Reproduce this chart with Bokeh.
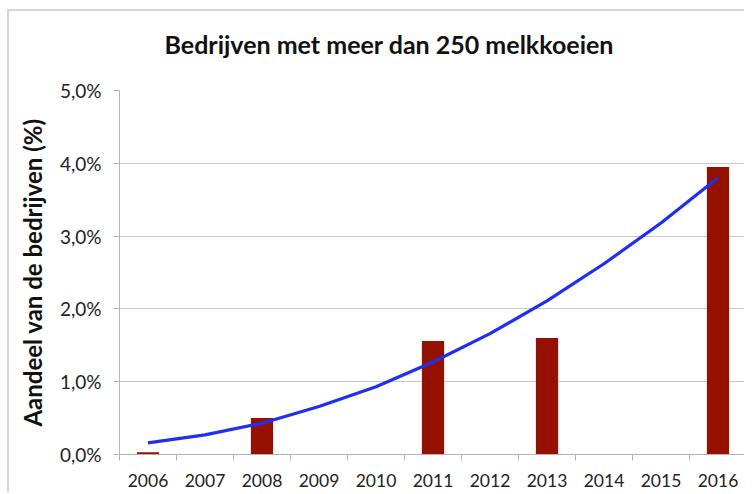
from bokeh.plotting import figure
from bokeh.models import FixedTicker, Range1d, Title
from bokeh.embed import file_html
from bokeh.resources import INLINE

# ---- data ----
years = [2006, 2007, 2008, 2009, 2010, 2011, 2012, 2013, 2014, 2015, 2016]
bar_years = [2006, 2008, 2011, 2013, 2016]
bar_values = [0.03, 0.50, 1.56, 1.60, 3.95]          # percent
trend_values = [0.16, 0.27, 0.43, 0.66, 0.93, 1.27, 1.66, 2.11, 2.62, 3.18, 3.80]
y_ticks = [0, 1, 2, 3, 4, 5]
y_tick_labels = ["0,0%", "1,0%", "2,0%", "3,0%", "4,0%", "5,0%"]
title_text = "Bedrijven met meer dan 250 melkkoeien"
y_label = "Aandeel van de bedrijven (%)"

FONT = "Lato"

p = figure(width=737, height=483, output_backend="svg", toolbar_location=None,
           x_range=Range1d(years[0] - 0.5, years[-1] + 0.5),
           y_range=Range1d(0, 5),
           min_border_left=110, min_border_right=0,
           min_border_top=79, min_border_bottom=40)

# spacer between frame and title, then the title itself
spacer = Title(text=" ", text_font=FONT, text_font_size="25px", standoff=0,
               text_color="white")
p.add_layout(spacer, "above")
t = Title(text=title_text, align="left", text_font=FONT, text_font_size="25px",
          text_font_style="bold", text_color="#111111", offset=45, standoff=0)
p.add_layout(t, "above")

p.vbar(x=bar_years, top=bar_values, width=0.39, color="#941100", line_color=None)
p.line(x=years, y=trend_values, line_color="#1f2ff0", line_width=3.2)

p.outline_line_color = None
p.background_fill_color = "white"
p.border_fill_color = "white"

# grids
p.xgrid.grid_line_color = None
p.ygrid.ticker = FixedTicker(ticks=y_ticks)
p.ygrid.grid_line_color = "#c8c8c8"
p.ygrid.grid_line_width = 1

# x axis
boundaries = [y + 0.5 for y in years[:-1]] + [years[0] - 0.5, years[-1] + 0.5]
p.xaxis.ticker = FixedTicker(ticks=years, minor_ticks=boundaries)
p.xaxis.major_label_overrides = {y: str(y) for y in years}
p.xaxis.major_tick_line_color = None
p.xaxis.minor_tick_line_color = "#b4b4b4"
p.xaxis.minor_tick_in = 0
p.xaxis.minor_tick_out = 6
p.xaxis.axis_line_color = "#b4b4b4"
p.xaxis.major_label_text_font = FONT
p.xaxis.major_label_text_font_size = "17.5px"
p.xaxis.major_label_text_color = "#222222"
p.xaxis.major_label_standoff = 13

# y axis
p.yaxis.ticker = FixedTicker(ticks=y_ticks, minor_ticks=[])
p.yaxis.major_label_overrides = {v: s for v, s in zip(y_ticks, y_tick_labels)}
p.yaxis.axis_line_color = "#b4b4b4"
p.yaxis.major_tick_line_color = "#b4b4b4"
p.yaxis.major_tick_in = 0
p.yaxis.major_tick_out = 6
p.yaxis.minor_tick_line_color = None
p.yaxis.major_label_text_font = FONT
p.yaxis.major_label_text_font_size = "19px"
p.yaxis.major_label_text_color = "#222222"
p.yaxis.major_label_standoff = 12
p.yaxis.axis_label = y_label
p.yaxis.axis_label_text_font = FONT
p.yaxis.axis_label_text_font_size = "24px"
p.yaxis.axis_label_text_font_style = "bold"
p.yaxis.axis_label_text_color = "#111111"
p.yaxis.axis_label_standoff = 10

p.styles = {"border-top": "2px solid #d6d6d6", "border-left": "2px solid #d6d6d6",
            "margin-left": "7px", "margin-top": "9px"}

open("out.html", "w").write(file_html(p, INLINE))
